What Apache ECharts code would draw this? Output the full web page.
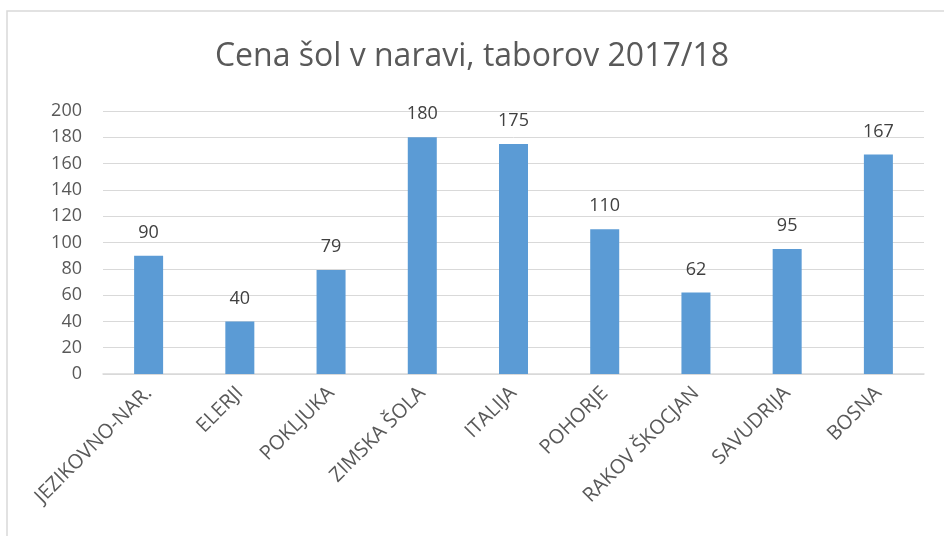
<!DOCTYPE html>
<html>
<head>
<meta charset="utf-8">
<script src="https://cdn.jsdelivr.net/npm/echarts@6/dist/echarts.min.js"></script>
<style>
  html, body { margin: 0; padding: 0; background: #fff; }
  #chart { width: 944px; height: 536px; }
</style>
</head>
<body>
<div id="chart"></div>
<script>
// data
const categories = ['JEZIKOVNO-NAR.', 'ELERJI', 'POKLJUKA', 'ZIMSKA ŠOLA', 'ITALIJA', 'POHORJE', 'RAKOV ŠKOCJAN', 'SAVUDRIJA', 'BOSNA'];
const prices = [90, 40, 79, 180, 175, 110, 62, 95, 167];

const chart = echarts.init(document.getElementById('chart'));
const font = '"Open Sans", "Noto Sans", sans-serif';

chart.setOption({
  animation: false,
  title: {
    text: 'Cena šol v naravi, taborov 2017/18',
    left: 'center',
    top: 36,
    textStyle: { fontFamily: font, fontSize: 32, fontWeight: 'normal', color: '#595959' }
  },
  graphic: [{
    type: 'rect',
    shape: { x: 7, y: 11, width: 950, height: 540 },
    style: { fill: 'none', stroke: '#d9d9d9', lineWidth: 1.5 },
    silent: true
  }],
  grid: { left: 103, right: 20, top: 111, bottom: 162 },
  xAxis: {
    type: 'category',
    data: categories,
    axisTick: { show: false },
    axisLine: { lineStyle: { color: '#d9d9d9', width: 1.5 } },
    axisLabel: { rotate: 45, margin: 16, interval: 0, fontFamily: font, fontSize: 20, color: '#595959' }
  },
  yAxis: {
    type: 'value',
    min: 0,
    max: 200,
    interval: 20,
    axisLine: { show: false },
    axisTick: { show: false },
    splitLine: { lineStyle: { color: '#d9d9d9', width: 1 } },
    axisLabel: { margin: 21, fontFamily: font, fontSize: 18, color: '#595959' }
  },
  series: [{
    type: 'bar',
    data: prices,
    barWidth: 29,
    itemStyle: { color: '#5b9bd5' },
    label: {
      show: true,
      position: 'top',
      distance: 14,
      fontFamily: font,
      fontSize: 18,
      color: '#404040'
    }
  }]
});
</script>
</body>
</html>
